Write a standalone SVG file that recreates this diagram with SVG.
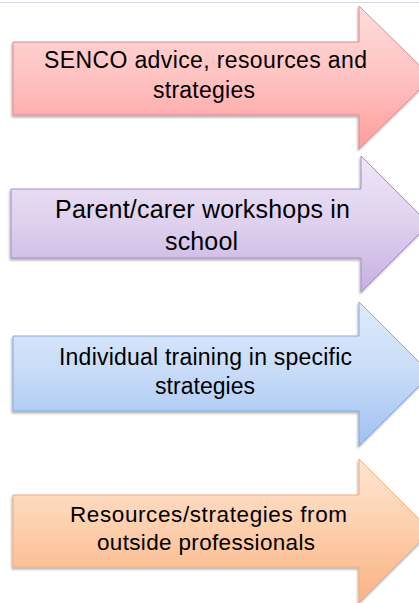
<svg xmlns="http://www.w3.org/2000/svg" width="419" height="603" viewBox="0 0 419 603">
  <style>
    .lbl { font-family: "Liberation Sans", Arial, sans-serif; fill: #000; text-anchor: start; }
    .arrow { stroke-width: 1; filter: url(#sh); }
  </style>
  <defs>
    <filter id="sh" x="-10%" y="-10%" width="130%" height="130%">
      <feDropShadow dx="-1" dy="2" stdDeviation="1.2" flood-color="#000" flood-opacity="0.3"/>
    </filter>
    <linearGradient id="gRed" x1="0" y1="0" x2="0" y2="1">
      <stop offset="0" stop-color="#ffdcdc"/>
      <stop offset="0.5" stop-color="#ffc2c2"/>
      <stop offset="1" stop-color="#ff9c9c"/>
    </linearGradient>
    <linearGradient id="gPur" x1="0" y1="0" x2="0" y2="1">
      <stop offset="0" stop-color="#efe7f8"/>
      <stop offset="0.5" stop-color="#ded0ee"/>
      <stop offset="1" stop-color="#c6b0e1"/>
    </linearGradient>
    <linearGradient id="gBlu" x1="0" y1="0" x2="0" y2="1">
      <stop offset="0" stop-color="#e0ebfc"/>
      <stop offset="0.5" stop-color="#c7dbf8"/>
      <stop offset="1" stop-color="#a0c0f2"/>
    </linearGradient>
    <linearGradient id="gOra" x1="0" y1="0" x2="0" y2="1">
      <stop offset="0" stop-color="#ffe6d4"/>
      <stop offset="0.5" stop-color="#fdceab"/>
      <stop offset="1" stop-color="#fab283"/>
    </linearGradient>
  </defs>
  <rect x="0" y="0" width="419" height="603" fill="#ffffff"/>
  <line x1="0" y1="2.5" x2="419" y2="2.5" stroke="#d8d8e4" stroke-width="1"/>

  <g id="connectors"></g>

  <g id="node1">
    <path class="arrow" d="M13,42 H359 V6 L432,77.5 L359,149 V115 H13 Z" fill="url(#gRed)" stroke="#e08a8a"/>
    <text class="lbl" x="44" y="67.7" font-size="23" textLength="323" lengthAdjust="spacing">SENCO advice, resources and</text>
    <text class="lbl" x="153" y="98" font-size="23" textLength="102" lengthAdjust="spacing">strategies</text>
  </g>

  <g id="node2">
    <path class="arrow" d="M11,189 H361 V156 L429,224 L361,292 V258 H11 Z" fill="url(#gPur)" stroke="#a58cc6"/>
    <text class="lbl" x="55" y="217.7" font-size="25" textLength="295" lengthAdjust="spacing">Parent/carer workshops in</text>
    <text class="lbl" x="165" y="250" font-size="25" textLength="73" lengthAdjust="spacing">school</text>
  </g>

  <g id="node3">
    <path class="arrow" d="M13,336 H359 V302 L431,374 L359,446 V411 H13 Z" fill="url(#gBlu)" stroke="#86a9d8"/>
    <text class="lbl" x="59" y="365" font-size="23" textLength="293" lengthAdjust="spacing">Individual training in specific</text>
    <text class="lbl" x="155" y="394" font-size="23" textLength="100" lengthAdjust="spacing">strategies</text>
  </g>

  <g id="node4">
    <path class="arrow" d="M13,495 H359 V459 L431,531 L359,603 V567 H13 Z" fill="url(#gOra)" stroke="#f2aa78"/>
    <text class="lbl" x="70" y="521.7" font-size="22.5" textLength="277" lengthAdjust="spacing">Resources/strategies from</text>
    <text class="lbl" x="97" y="550" font-size="22.5" textLength="218" lengthAdjust="spacing">outside professionals</text>
  </g>
</svg>
